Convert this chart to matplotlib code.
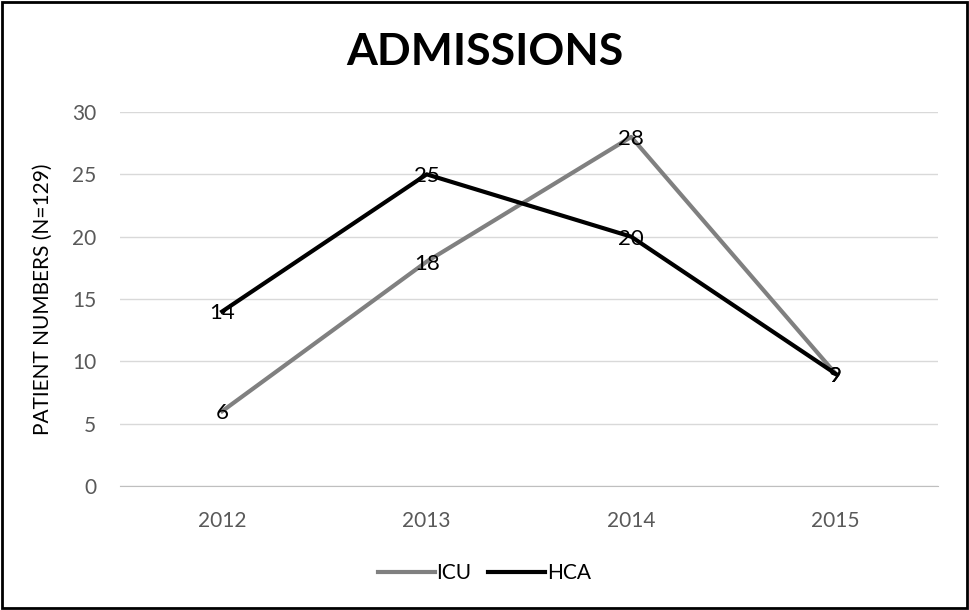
import matplotlib
matplotlib.use("Agg")
import matplotlib.pyplot as plt
from matplotlib.patches import Rectangle

plt.rcParams['font.family'] = ['Lato', 'DejaVu Sans']

years = ['2012', '2013', '2014', '2015']
icu = [6, 18, 28, 9]
hca = [14, 25, 20, 9]

fig = plt.figure(figsize=(9.69, 6.10), dpi=100)
ax = fig.add_axes([0.1238, 0.2033, 0.8441, 0.6131])

x = range(len(years))
ax.plot(x, icu, color='#808080', lw=3, label='ICU', zorder=3)
ax.plot(x, hca, color='black', lw=3, label='HCA', zorder=3)

# value labels sit right on the points
for xi, v in zip(x, icu):
    ax.text(xi, v, str(v), ha='center', va='center_baseline', fontsize=16, color='black', zorder=4)
for xi, v in zip(x, hca):
    ax.text(xi, v, str(v), ha='center', va='center_baseline', fontsize=16, color='black', zorder=4)

ax.set_xlim(-0.5, 3.5)
ax.set_ylim(0, 30)
ax.set_yticks(range(0, 31, 5))
ax.set_xticks(list(x))
ax.set_xticklabels(years)
ax.grid(axis='y', color='#d9d9d9', lw=1)
ax.set_axisbelow(True)
for s in ['top', 'right', 'left']:
    ax.spines[s].set_visible(False)
ax.spines['bottom'].set_color('#bfbfbf')
ax.tick_params(axis='both', length=0, labelsize=15, labelcolor='#595959')
ax.tick_params(axis='y', pad=17)
ax.tick_params(axis='x', pad=18)
ax.set_ylabel('PATIENT NUMBERS (N=129)', fontsize=15, color='black', labelpad=14)

fig.text(0.5, 0.915, 'ADMISSIONS', ha='center', va='center', fontsize=32, fontweight='bold')

fig.legend(loc='center', bbox_to_anchor=(0.5, 0.06), ncol=2, frameon=False,
           fontsize=15, handlelength=2.7, columnspacing=0.8, handletextpad=0.1)

fig.patches.append(Rectangle((0.002, 0.003), 0.996, 0.994, transform=fig.transFigure,
                             fill=False, edgecolor='black', lw=2))

fig.savefig('out.png', dpi=100)
